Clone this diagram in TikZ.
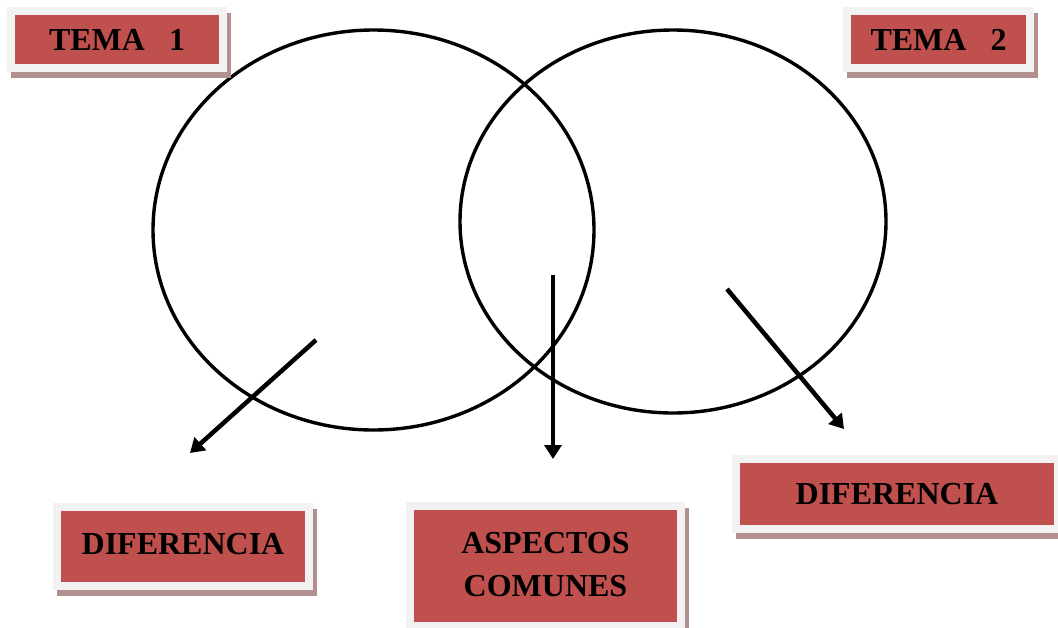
\documentclass[tikz,border=0pt]{standalone}
\usepackage{fontspec}
\setmainfont{Liberation Serif}
\usetikzlibrary{arrows.meta}
\definecolor{boxred}{HTML}{C0504D}
\definecolor{boxframe}{HTML}{F2F2F2}
\definecolor{boxshadow}{HTML}{B39090}
\begin{document}
\begin{tikzpicture}[x=1pt,y=-1pt,
  tbox/.style={fill=boxred, draw=boxframe, line width=8pt, inner sep=0pt, outer sep=0pt,
    align=center, font=\fontsize{32}{43}\selectfont\bfseries,
    preaction={draw=boxshadow, fill=boxshadow, line width=8pt, transform canvas={shift={(4pt,-6pt)}}}},
  venn/.style={draw=black, line width=3.4pt},
  pointer/.style={draw=black, line width=4.5pt, -{Triangle[length=14pt,width=17pt]}}]
\useasboundingbox (0,0) rectangle (1058,627);
\clip (0,0) rectangle (1058,627);
\fill[white] (0,0) rectangle (1058,627);
% circles
\draw[venn] (373.5,230) ellipse [x radius=220.5pt, y radius=200pt];
\draw[venn] (673,221.5) ellipse [x radius=213pt, y radius=191.5pt];
% boxes
\node[tbox, minimum width=212pt, minimum height=57pt] (t1) at (117,39.5) {\raisebox{-3pt}{TEMA\hspace{0.75em}1}};
\node[tbox, minimum width=183pt, minimum height=57pt] (t2) at (938.5,39.5) {\raisebox{-3pt}{TEMA\hspace{0.75em}2}};
\node[tbox, minimum width=252pt, minimum height=79pt] (d1) at (183,546.5) {\raisebox{6pt}{DIFERENCIA}};
\node[tbox, minimum width=271pt, minimum height=120pt] (ac) at (545.5,566) {\raisebox{4pt}{\begin{tabular}{@{}c@{}}ASPECTOS\\COMUNES\end{tabular}}};
\node[tbox, minimum width=322pt, minimum height=70pt] (d2) at (897,494) {\raisebox{1pt}{DIFERENCIA}};
% arrows
\coordinate (a1s) at (316,340); \coordinate (a1e) at (190,453);
\coordinate (a2s) at (553,275); \coordinate (a2e) at (553,459);
\coordinate (a3s) at (727,289); \coordinate (a3e) at (844,429);
\draw[pointer] (a1s) -- (a1e);
\draw[pointer] (a2s) -- (a2e);
\draw[pointer] (a3s) -- (a3e);
\end{tikzpicture}
\end{document}
